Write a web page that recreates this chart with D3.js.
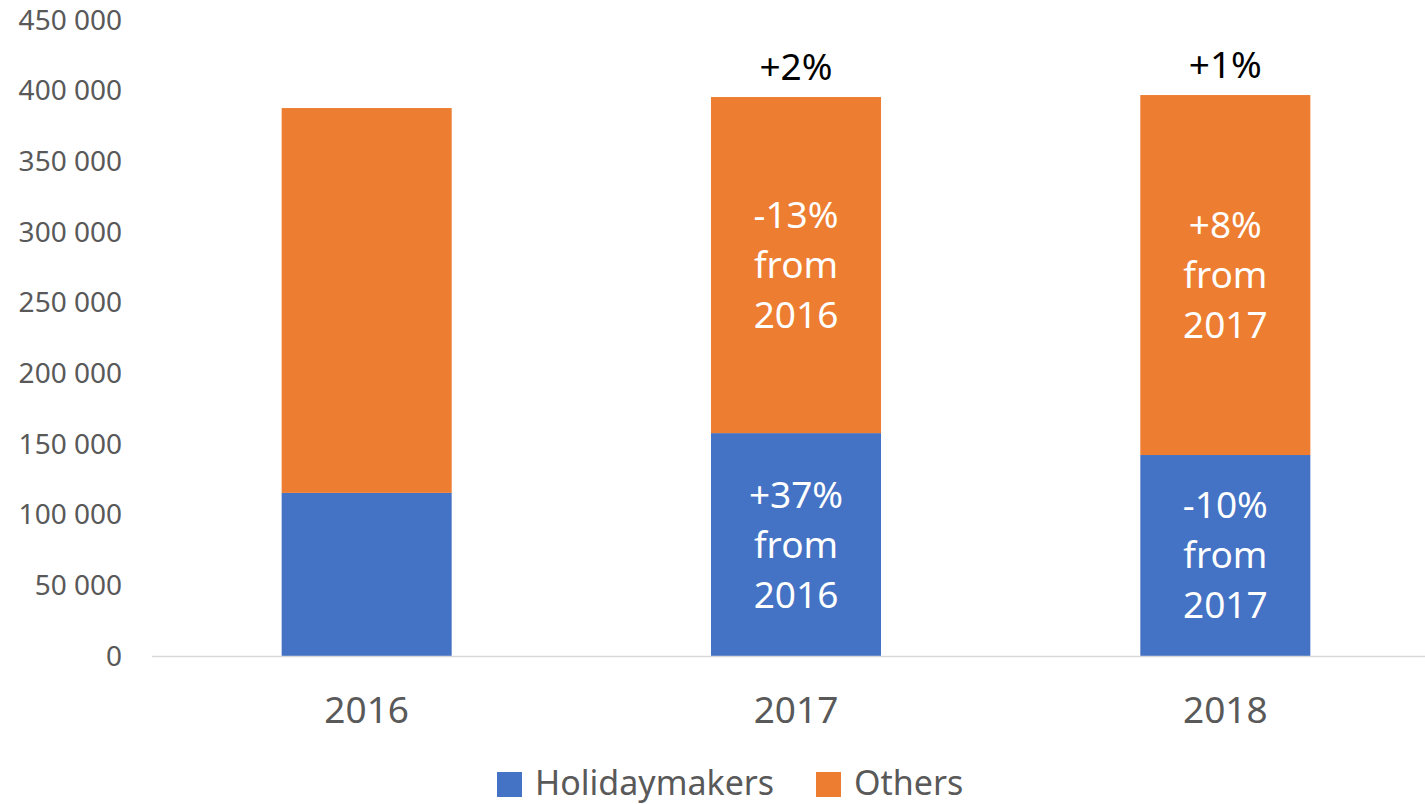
<!DOCTYPE html>
<html lang="en">
<head>
  <meta charset="UTF-8">
  <title>Holidaymakers vs Others</title>
  <script src="https://d3js.org/d3.v7.min.js"></script>
  <style>
    body {
      margin: 0;
      background: #ffffff;
      font-family: "Noto Sans", Arial, sans-serif;
    }
    .tick-label { fill: #595959; font-size: 28px; }
    .cat-label { fill: #595959; font-size: 37px; }
    .legend-label { fill: #595959; font-size: 34px; }
    .in-label { fill: #ffffff; font-size: 37px; }
    .top-label { fill: #000000; font-size: 37px; }
  </style>
</head>
<body>
<div id="chart"></div>

<script>
// data
const years = ["2016", "2017", "2018"];
const holidaymakers = [115400, 157700, 142200];
const others = [272300, 237800, 254700];
const yTicks = [0, 50000, 100000, 150000, 200000, 250000, 300000, 350000, 400000, 450000];

// annotation texts
const topLabels = ["", "+2%", "+1%"];
const holidayLabels = [[], ["+37%", "from", "2016"], ["-10%", "from", "2017"]];
const otherLabels = [[], ["-13%", "from", "2016"], ["+8%", "from", "2017"]];

const seriesNames = ["Holidaymakers", "Others"];
const colors = ["#4472C4", "#ED7D31"];

const W = 1425, H = 804;
const svg = d3.select("#chart").append("svg")
    .attr("width", W)
    .attr("height", H);

const x = d3.scaleBand()
    .domain(years)
    .range([152, 1440])
    .paddingInner(0.604)
    .paddingOuter(0.302);

const y = d3.scaleLinear()
    .domain([0, 450000])
    .range([656, 20]);

const fmt = d3.formatLocale({ decimal: ".", thousands: " ", grouping: [3], currency: ["", ""] }).format(",");

// y tick labels (no gridlines)
svg.append("g")
  .selectAll("text")
  .data(yTicks)
  .join("text")
    .attr("class", "tick-label")
    .attr("x", 122)
    .attr("y", d => y(d))
    .attr("dy", "0.35em")
    .attr("text-anchor", "end")
    .text(d => fmt(d));

// stacked data
const rows = years.map((yr, i) => ({ year: yr, Holidaymakers: holidaymakers[i], Others: others[i] }));
const stack = d3.stack().keys(seriesNames)(rows);

const layers = svg.append("g")
  .selectAll("g")
  .data(stack)
  .join("g")
    .attr("fill", (d, i) => colors[i]);

layers.selectAll("rect")
  .data(d => d)
  .join("rect")
    .attr("x", d => x(d.data.year))
    .attr("width", x.bandwidth())
    .attr("y", d => y(d[1]))
    .attr("height", d => y(d[0]) - y(d[1]));

// x axis line
svg.append("line")
    .attr("x1", 152)
    .attr("x2", W)
    .attr("y1", y(0) + 0.5)
    .attr("y2", y(0) + 0.5)
    .attr("stroke", "#D9D9D9")
    .attr("stroke-width", 1.5);

// category labels
svg.append("g")
  .selectAll("text")
  .data(years)
  .join("text")
    .attr("class", "cat-label")
    .attr("x", d => x(d) + x.bandwidth() / 2)
    .attr("y", 723)
    .attr("text-anchor", "middle")
    .text(d => d);

// labels inside segments
const lineGap = 50;
function segmentLabel(lines, i, lo, hi) {
  if (!lines.length) return;
  const cx = x(years[i]) + x.bandwidth() / 2;
  const cy = (y(lo) + y(hi)) / 2;
  const t = svg.append("text")
      .attr("class", "in-label")
      .attr("text-anchor", "middle");
  lines.forEach((ln, k) => {
    t.append("tspan")
      .attr("x", cx)
      .attr("y", cy + (k - (lines.length - 1) / 2) * lineGap)
      .attr("dy", "0.35em")
      .text(ln);
  });
}

years.forEach((yr, i) => {
  segmentLabel(holidayLabels[i], i, 0, holidaymakers[i]);
  segmentLabel(otherLabels[i], i, holidaymakers[i], holidaymakers[i] + others[i]);
  if (topLabels[i]) {
    svg.append("text")
      .attr("class", "top-label")
      .attr("x", x(yr) + x.bandwidth() / 2)
      .attr("y", y(holidaymakers[i] + others[i]) - 17)
      .attr("text-anchor", "middle")
      .text(topLabels[i]);
  }
});

// legend
const legendItems = [
  { name: "Holidaymakers", color: colors[0], x: 497 },
  { name: "Others", color: colors[1], x: 816 }
];
const legend = svg.append("g");
legendItems.forEach(item => {
  legend.append("rect")
    .attr("x", item.x)
    .attr("y", 772)
    .attr("width", 25)
    .attr("height", 25)
    .attr("fill", item.color);
  legend.append("text")
    .attr("class", "legend-label")
    .attr("x", item.x + 38)
    .attr("y", 795)
    .text(item.name);
});
</script>
</body>
</html>
